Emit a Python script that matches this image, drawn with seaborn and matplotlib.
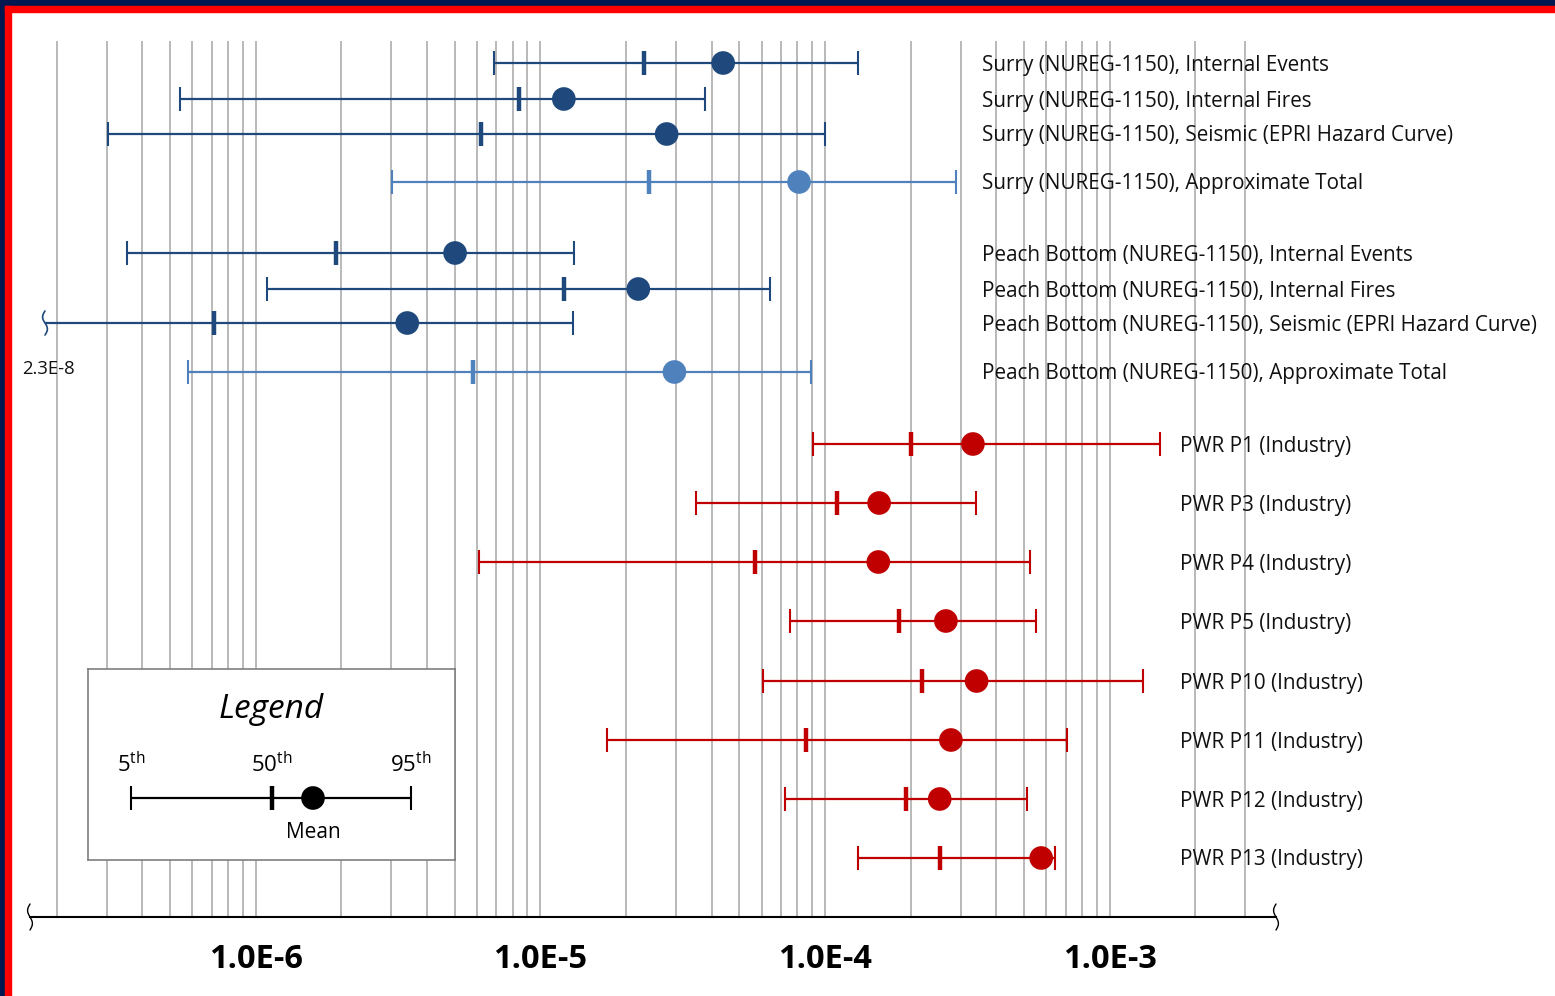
import numpy as np
import pandas as pd
import seaborn as sns
import matplotlib.pyplot as plt
from matplotlib import ticker
from matplotlib.lines import Line2D
from matplotlib.patches import Rectangle

sns.set_theme(style="white")
plt.rcParams['font.family'] = ['Open Sans', 'DejaVu Sans']
plt.rcParams['mathtext.fontset'] = 'custom'
plt.rcParams['mathtext.rm'] = 'Open Sans'

# ---- data (core damage frequency, per reactor-year) ----
labels = [
    "Surry (NUREG-1150), Internal Events",
    "Surry (NUREG-1150), Internal Fires",
    "Surry (NUREG-1150), Seismic (EPRI Hazard Curve)",
    "Surry (NUREG-1150), Approximate Total",
    "Peach Bottom (NUREG-1150), Internal Events",
    "Peach Bottom (NUREG-1150), Internal Fires",
    "Peach Bottom (NUREG-1150), Seismic (EPRI Hazard Curve)",
    "Peach Bottom (NUREG-1150), Approximate Total",
    "PWR P1 (Industry)", "PWR P3 (Industry)", "PWR P4 (Industry)",
    "PWR P5 (Industry)", "PWR P10 (Industry)", "PWR P11 (Industry)",
    "PWR P12 (Industry)", "PWR P13 (Industry)",
]
group = ["nureg", "nureg", "nureg", "total", "nureg", "nureg", "nureg", "total"] + ["industry"] * 8
p5 = [6.86e-6, 5.41e-7, 3.02e-7, 3.01e-6, 3.54e-7, 1.10e-6, 2.3e-8, 5.80e-7,
      9.1e-5, 3.52e-5, 6.09e-6, 7.55e-5, 6.06e-5, 1.71e-5, 7.22e-5, 1.31e-4]
p50 = [2.31e-5, 8.40e-6, 6.18e-6, 2.40e-5, 1.92e-6, 1.21e-5, 7.15e-7, 5.80e-6,
       2.01e-4, 1.105e-4, 5.67e-5, 1.82e-4, 2.20e-4, 8.58e-5, 1.92e-4, 2.53e-4]
mean = [4.39e-5, 1.21e-5, 2.78e-5, 8.11e-5, 5.02e-6, 2.21e-5, 3.41e-6, 2.96e-5,
        3.31e-4, 1.55e-4, 1.54e-4, 2.66e-4, 3.41e-4, 2.77e-4, 2.53e-4, 5.75e-4]
p95 = [1.31e-4, 3.78e-5, 1.0e-4, 2.89e-4, 1.31e-5, 6.43e-5, 1.30e-5, 8.93e-5,
       1.50e-3, 3.40e-4, 5.25e-4, 5.51e-4, 1.31e-3, 7.10e-4, 5.11e-4, 6.41e-4]

# ---- layout (pixel positions, top-left origin) ----
W, H = 1555, 996
row_y = [63, 99, 134, 182, 253, 289, 323, 372, 444, 503, 562, 621, 681, 740, 799, 858]
colors = {"nureg": "#1F497D", "total": "#4F81BD", "industry": "#C00000"}

df = pd.DataFrame({"label": labels, "group": group, "p5": p5, "p50": p50,
                   "mean": mean, "p95": p95, "y": row_y})

fig = plt.figure(figsize=(W / 100, H / 100), dpi=100)
ax_l, ax_r, ax_t, ax_b = 30, 1276, 41, 917
ax = fig.add_axes([ax_l / W, 1 - ax_b / H, (ax_r - ax_l) / W, (ax_b - ax_t) / H])

# x scale: 1e-6 at 255.6 px, 284.67 px per decade
def px2val(px):
    return 10 ** (-6 + (px - 255.6) / 284.67)

ax.set_xscale("log")
ax.set_xlim(px2val(ax_l), px2val(ax_r))
ax.set_ylim(ax_b, ax_t)

ax.xaxis.set_major_locator(ticker.LogLocator(base=10))
ax.xaxis.set_minor_locator(ticker.LogLocator(base=10, subs=np.arange(2, 10)))
ax.xaxis.set_major_formatter(ticker.FuncFormatter(lambda v, p: f"1.0E{int(round(np.log10(v)))}"))
ax.xaxis.set_minor_formatter(ticker.NullFormatter())
ax.grid(which="both", axis="x", color="#A6A6A6", lw=1.1)
ax.set_axisbelow(True)
ax.tick_params(axis="x", which="major", direction="inout", length=18, width=1.2,
               color="black", pad=10, labelsize=23.5, labelcolor="black")
ax.tick_params(axis="x", which="minor", length=0)
for lab in ax.get_xticklabels():
    lab.set_fontweight("bold")
ax.set_yticks([])
for s in ["left", "right", "top"]:
    ax.spines[s].set_visible(False)
ax.spines["bottom"].set_color("black")
ax.spines["bottom"].set_linewidth(1.5)

xmin = px2val(ax_l)
x_break = px2val(45)
half = 12

for _, r in df.iterrows():
    c = colors[r["group"]]
    lo = r["p5"] if r["p5"] >= xmin else x_break
    ax.hlines(r["y"], lo, r["p95"], color=c, lw=1.6, zorder=3)
    if r["p5"] >= xmin:
        ax.vlines(r["p5"], r["y"] - half, r["y"] + half, color=c, lw=1.5, zorder=3)
    ax.vlines(r["p95"], r["y"] - half, r["y"] + half, color=c, lw=1.5, zorder=3)
    ax.vlines(r["p50"], r["y"] - half, r["y"] + half, color=c, lw=3.2, zorder=3)

sns.scatterplot(data=df, x="mean", y="y", hue="group", palette=colors, s=290,
                edgecolor="none", legend=False, zorder=4, ax=ax)
ax.set_xlabel("")
ax.set_ylabel("")


def squiggle(xc, yc, h=13, a=3):
    t = np.linspace(-1, 1, 40)
    xs = xc + a * np.sin(np.pi * t) * 0.8
    ys = yc + h * t
    fig.add_artist(Line2D(xs / W, 1 - ys / H, transform=fig.transFigure,
                          color="black", lw=1.0))


# break marks
squiggle(ax_l, ax_b)
squiggle(ax_r, ax_b)
t = np.linspace(-1, 1, 40)
fig.add_artist(Line2D((45 + 2.4 * np.sin(np.pi * t)) / W, 1 - (323 + 12 * t) / H,
                      transform=fig.transFigure, color=colors["nureg"], lw=1.2))
fig.text(22 / W, 1 - 369 / H, "2.3E-8", fontsize=13.3, va="center", ha="left", color="#111111")

# row labels
for i, r in df.iterrows():
    lx = 982 if r["group"] != "industry" else 1180
    fig.text(lx / W, 1 - (r["y"] + 2) / H, r["label"], fontsize=14.9, va="center", ha="left",
             color="#111111")

# legend box
lg = fig.add_axes([88 / W, 1 - 860 / H, (455 - 88) / W, (860 - 669) / H])
lg.set_xlim(88, 455)
lg.set_ylim(860, 669)
lg.set_xticks([])
lg.set_yticks([])
for s in lg.spines.values():
    s.set_color("#7F7F7F")
    s.set_linewidth(1.2)
lg.text(271, 710, "Legend", fontsize=24, style="italic", ha="center", va="center", color="black")
lg.hlines(798, 131, 411, color="black", lw=1.6)
lg.vlines([131, 411], 786, 810, color="black", lw=1.5)
lg.vlines(272, 786, 810, color="black", lw=3.2)
lg.scatter([313], [798], s=290, color="black", edgecolor="none", zorder=4)
for xx, t_ in [(131, "5"), (272, "50"), (411, "95")]:
    lg.text(xx, 765, t_ + r"$^{\mathrm{th}}$", fontsize=16, ha="center", va="center", color="black")
lg.text(313, 833, "Mean", fontsize=15, ha="center", va="center", color="black")

# frame stripes (top and left)
fig.add_artist(Rectangle((0, 1 - 6 / H), 1, 6 / H, transform=fig.transFigure,
                         color="#00174F", zorder=10))
fig.add_artist(Rectangle((0, 0), 5 / W, 1, transform=fig.transFigure,
                         color="#00174F", zorder=10))
fig.add_artist(Rectangle((5 / W, 1 - 12 / H), 1, 6 / H, transform=fig.transFigure,
                         color="#FF0000", zorder=10))
fig.add_artist(Rectangle((5 / W, 0), 6 / W, 1 - 6 / H, transform=fig.transFigure,
                         color="#FF0000", zorder=10))

fig.savefig("out.png", dpi=100)
